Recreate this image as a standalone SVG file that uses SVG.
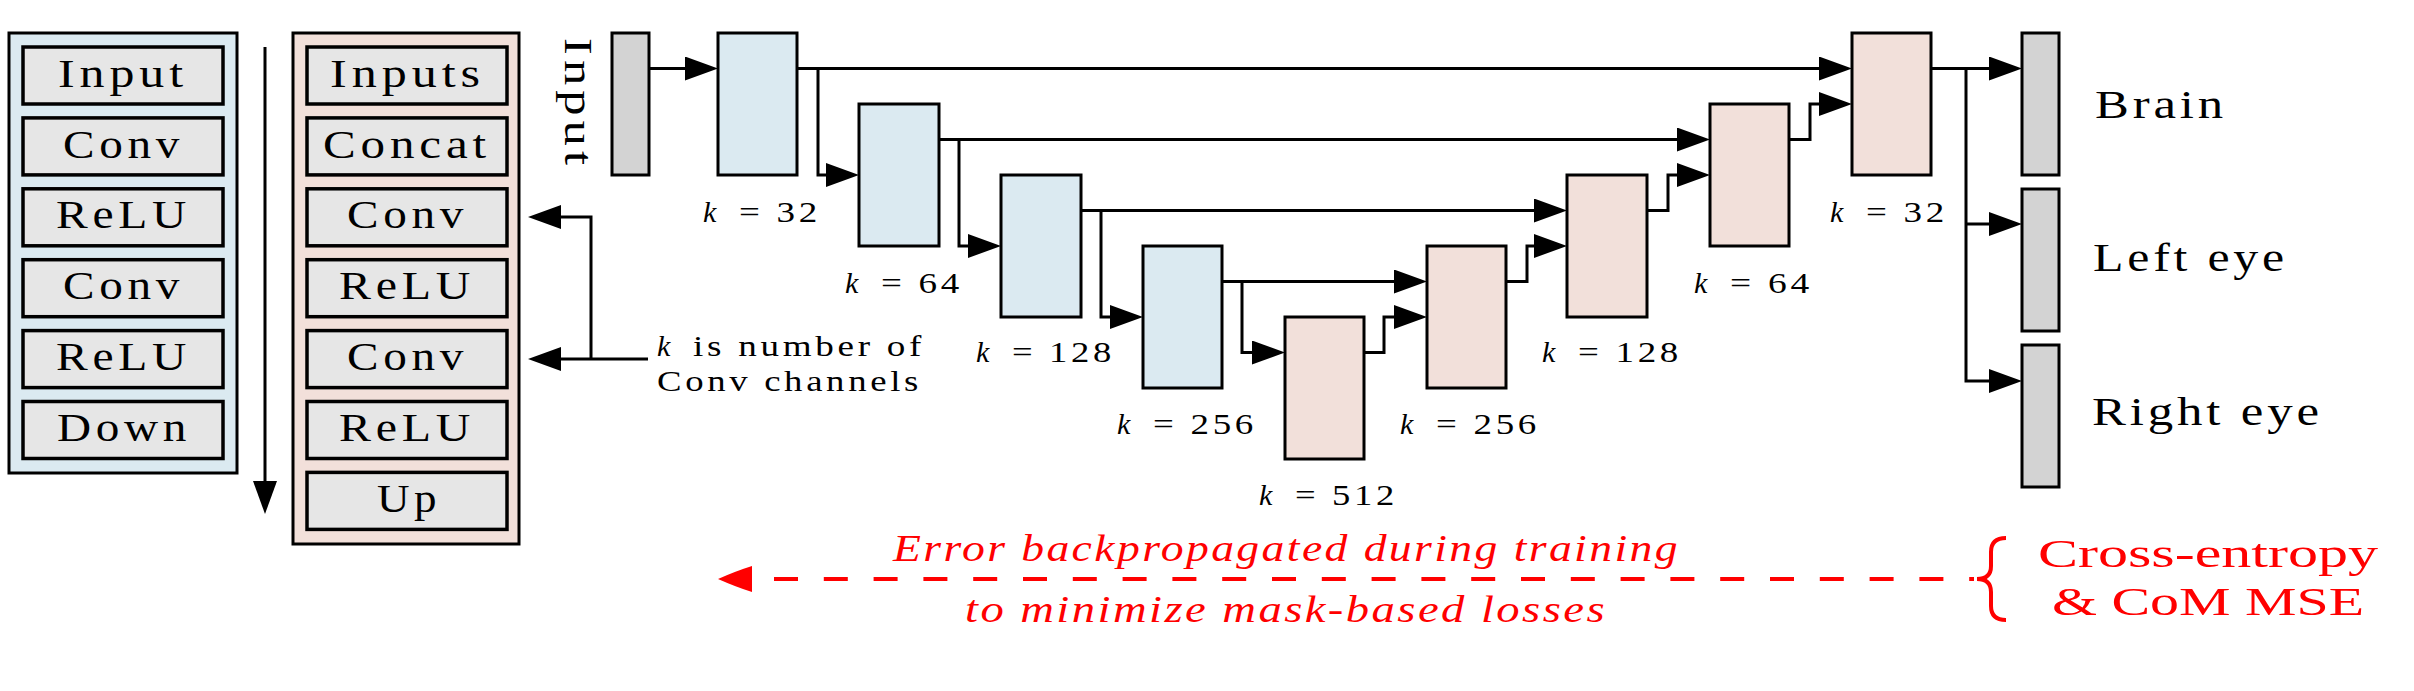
<svg xmlns="http://www.w3.org/2000/svg" width="2414" height="691" viewBox="0 0 2414 691">
<style>
.pb{fill:#dbeaf1;stroke:#000;stroke-width:3}
.pr{fill:#f2e0da;stroke:#000;stroke-width:3}
.it{fill:#e6e6e6;stroke:#000;stroke-width:3.5}
.bar{fill:#d3d3d3;stroke:#000;stroke-width:3}
.t{font-family:"Liberation Serif",serif;font-size:40.5px;letter-spacing:4px;fill:#000}
.k{font-family:"Liberation Serif",serif;font-size:30px;font-style:italic;fill:#000}
.kn{font-family:"Liberation Serif",serif;font-size:30px;letter-spacing:3px;fill:#000}
.an{font-family:"Liberation Serif",serif;font-size:30px;letter-spacing:3px;fill:#000}
.out{font-family:"Liberation Serif",serif;font-size:39.5px;letter-spacing:3px;fill:#000}
.red{font-family:"Liberation Serif",serif;font-size:38px;font-style:italic;letter-spacing:2px;fill:#ff0000}
.redu{font-family:"Liberation Serif",serif;font-size:40px;fill:#ff0000}
.c{fill:none;stroke:#000;stroke-width:3}
</style>
<defs>
<marker id="ah" markerUnits="userSpaceOnUse" viewBox="0 0 33 24" markerWidth="33" markerHeight="24" refX="23" refY="12" orient="auto">
<path d="M0,0 L33,12 L0,24 Z" fill="#000"/>
</marker>
</defs>

<g id="encoder-legend">
<rect class="pb" x="9" y="33" width="228" height="440"/>
<rect class="it" x="23" y="47" width="200" height="57"/>
<rect class="it" x="23" y="117.9" width="200" height="57"/>
<rect class="it" x="23" y="188.8" width="200" height="57"/>
<rect class="it" x="23" y="259.7" width="200" height="57"/>
<rect class="it" x="23" y="330.6" width="200" height="57"/>
<rect class="it" x="23" y="401.5" width="200" height="57"/>
<text class="t" x="58" y="86.6" textLength="130" lengthAdjust="spacingAndGlyphs">Input</text>
<text class="t" x="63" y="157.5" textLength="121" lengthAdjust="spacingAndGlyphs">Conv</text>
<text class="t" x="56" y="228.4" textLength="135" lengthAdjust="spacingAndGlyphs">ReLU</text>
<text class="t" x="63" y="299.3" textLength="121" lengthAdjust="spacingAndGlyphs">Conv</text>
<text class="t" x="56" y="370.2" textLength="135" lengthAdjust="spacingAndGlyphs">ReLU</text>
<text class="t" x="57" y="441.1" textLength="134" lengthAdjust="spacingAndGlyphs">Down</text>
</g>

<g id="decoder-legend">
<rect class="pr" x="293" y="33" width="226" height="511"/>
<rect class="it" x="307" y="47" width="200" height="57"/>
<rect class="it" x="307" y="117.9" width="200" height="57"/>
<rect class="it" x="307" y="188.8" width="200" height="57"/>
<rect class="it" x="307" y="259.7" width="200" height="57"/>
<rect class="it" x="307" y="330.6" width="200" height="57"/>
<rect class="it" x="307" y="401.5" width="200" height="57"/>
<rect class="it" x="307" y="472.4" width="200" height="57"/>
<text class="t" x="330" y="86.6" textLength="155" lengthAdjust="spacingAndGlyphs">Inputs</text>
<text class="t" x="323" y="157.5" textLength="168" lengthAdjust="spacingAndGlyphs">Concat</text>
<text class="t" x="347" y="228.4" textLength="121" lengthAdjust="spacingAndGlyphs">Conv</text>
<text class="t" x="339" y="299.3" textLength="136" lengthAdjust="spacingAndGlyphs">ReLU</text>
<text class="t" x="347" y="370.2" textLength="121" lengthAdjust="spacingAndGlyphs">Conv</text>
<text class="t" x="339" y="441.1" textLength="136" lengthAdjust="spacingAndGlyphs">ReLU</text>
<text class="t" x="377" y="512" textLength="64" lengthAdjust="spacingAndGlyphs">Up</text>
</g>

<g id="annotation">
<text class="k" x="657" y="356">k</text>
<text class="an" x="693" y="356" textLength="232" lengthAdjust="spacingAndGlyphs">is number of</text>
<text class="an" x="657" y="391" textLength="265" lengthAdjust="spacingAndGlyphs">Conv channels</text>
</g>

<g id="input">
<rect class="bar" x="612" y="33" width="37" height="142"/>
<text class="t" transform="translate(565,104) rotate(90)" x="0" y="0" text-anchor="middle" textLength="132" lengthAdjust="spacingAndGlyphs">Input</text>
</g>

<g id="enc1">
<rect class="pb" x="718" y="33" width="79" height="142"/>
<text class="k" x="703" y="222">k</text><text class="kn" x="739" y="222" textLength="82" lengthAdjust="spacingAndGlyphs">= 32</text>
</g>
<g id="enc2">
<rect class="pb" x="859" y="104" width="80" height="142"/>
<text class="k" x="845" y="292.5">k</text><text class="kn" x="881" y="292.5" textLength="82" lengthAdjust="spacingAndGlyphs">= 64</text>
</g>
<g id="enc3">
<rect class="pb" x="1001" y="175" width="80" height="142"/>
<text class="k" x="976" y="362">k</text><text class="kn" x="1012" y="362" textLength="103" lengthAdjust="spacingAndGlyphs">= 128</text>
</g>
<g id="enc4">
<rect class="pb" x="1143" y="246" width="79" height="142"/>
<text class="k" x="1117" y="434">k</text><text class="kn" x="1153" y="434" textLength="104" lengthAdjust="spacingAndGlyphs">= 256</text>
</g>
<g id="bottleneck">
<rect class="pr" x="1285" y="317" width="79" height="142"/>
<text class="k" x="1259" y="504.5">k</text><text class="kn" x="1295" y="504.5" textLength="103" lengthAdjust="spacingAndGlyphs">= 512</text>
</g>
<g id="dec4">
<rect class="pr" x="1427" y="246" width="79" height="142"/>
<text class="k" x="1400" y="434">k</text><text class="kn" x="1436" y="434" textLength="104" lengthAdjust="spacingAndGlyphs">= 256</text>
</g>
<g id="dec3">
<rect class="pr" x="1567" y="175" width="80" height="142"/>
<text class="k" x="1542" y="362">k</text><text class="kn" x="1578" y="362" textLength="104" lengthAdjust="spacingAndGlyphs">= 128</text>
</g>
<g id="dec2">
<rect class="pr" x="1710" y="104" width="79" height="142"/>
<text class="k" x="1694" y="292.5">k</text><text class="kn" x="1730" y="292.5" textLength="83" lengthAdjust="spacingAndGlyphs">= 64</text>
</g>
<g id="dec1">
<rect class="pr" x="1852" y="33" width="79" height="142"/>
<text class="k" x="1830" y="222">k</text><text class="kn" x="1866" y="222" textLength="82" lengthAdjust="spacingAndGlyphs">= 32</text>
</g>

<g id="out-brain">
<rect class="bar" x="2022" y="33" width="37" height="142"/>
<text class="out" x="2095" y="118" textLength="132" lengthAdjust="spacingAndGlyphs">Brain</text>
</g>
<g id="out-left-eye">
<rect class="bar" x="2022" y="189" width="37" height="142"/>
<text class="out" x="2093" y="271" textLength="195" lengthAdjust="spacingAndGlyphs">Left eye</text>
</g>
<g id="out-right-eye">
<rect class="bar" x="2022" y="345" width="37" height="142"/>
<text class="out" x="2092" y="425" textLength="231" lengthAdjust="spacingAndGlyphs">Right eye</text>
</g>

<g id="loss">
<path d="M2006,538 Q1991,538 1991,552 L1991,566 Q1991,579 1977,579 Q1991,579 1991,592 L1991,606 Q1991,620 2006,620" fill="none" stroke="#ff0000" stroke-width="4"/>
<text class="redu" x="2038" y="567" textLength="340" lengthAdjust="spacingAndGlyphs">Cross-entropy</text>
<text class="redu" x="2052" y="615" textLength="312" lengthAdjust="spacingAndGlyphs">&amp; CoM MSE</text>
</g>

<g id="connectors">
<path class="c" d="M265,47 V504" marker-end="url(#ah)"/>
<path class="c" d="M648,359 H538" marker-end="url(#ah)"/>
<path class="c" d="M591,359 V217 H538" marker-end="url(#ah)"/>
<path class="c" d="M649,68.5 H708" marker-end="url(#ah)"/>
<path class="c" d="M797,68.5 H1842" marker-end="url(#ah)"/>
<path class="c" d="M818,68.5 V175 H849" marker-end="url(#ah)"/>
<path class="c" d="M939,139.5 H1700" marker-end="url(#ah)"/>
<path class="c" d="M959,139.5 V246 H991" marker-end="url(#ah)"/>
<path class="c" d="M1081,210.5 H1557" marker-end="url(#ah)"/>
<path class="c" d="M1101,210.5 V317 H1133" marker-end="url(#ah)"/>
<path class="c" d="M1222,281.5 H1417" marker-end="url(#ah)"/>
<path class="c" d="M1242,281.5 V352.5 H1275" marker-end="url(#ah)"/>
<path class="c" d="M1364,352.5 H1384 V317 H1417" marker-end="url(#ah)"/>
<path class="c" d="M1506,281.5 H1527 V246 H1557" marker-end="url(#ah)"/>
<path class="c" d="M1647,210.5 H1668 V175 H1700" marker-end="url(#ah)"/>
<path class="c" d="M1789,139.5 H1810 V104 H1842" marker-end="url(#ah)"/>
<path class="c" d="M1931,68.5 H2012" marker-end="url(#ah)"/>
<path class="c" d="M1966,68.5 V381 H2012" marker-end="url(#ah)"/>
<path class="c" d="M1966,224 H2012" marker-end="url(#ah)"/>
<path d="M774,579 H1974" fill="none" stroke="#ff0000" stroke-width="4" stroke-dasharray="24 25.8"/>
<path d="M718,579 Q736,571 752,566 L752,592 Q736,587 718,579 Z" fill="#ff0000"/>
<text class="red" x="893" y="561" textLength="787" lengthAdjust="spacingAndGlyphs">Error backpropagated during training</text>
<text class="red" x="965" y="622" textLength="642" lengthAdjust="spacingAndGlyphs">to minimize mask-based losses</text>
</g>
</svg>
